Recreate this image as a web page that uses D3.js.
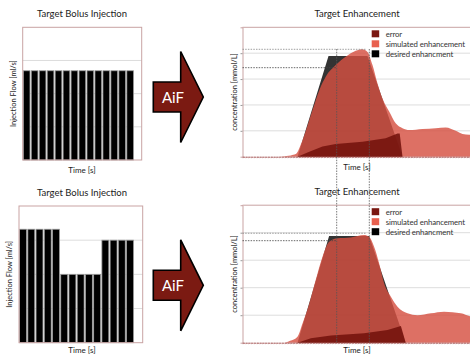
<!DOCTYPE html>
<html>
<head>
<meta charset="utf-8">
<script src="https://cdn.jsdelivr.net/npm/d3@7"></script>
<style>
body { margin: 0; background: #fff; }
text { font-family: Lato, "Open Sans", sans-serif; fill: #222; }
</style>
</head>
<body>
<div id="chart"></div>
<script>
// Width and height
var chart_width  = 470;
var chart_height = 354;

// Target bolus injection: 14 pulses, flow in ml/s
var pulses      = d3.range(1, 15);
var flowTop     = [2.69, 2.69, 2.69, 2.69, 2.69, 2.69, 2.69, 2.69, 2.69, 2.69, 2.69, 2.69, 2.69, 2.69];
var flowBottom  = [3.32, 3.32, 3.32, 3.32, 3.32, 2.0, 2.0, 2.0, 2.0, 2.0, 3.0, 3.0, 3.0, 3.0];

// Target enhancement, top row
var desiredTopT = [0, 13.75, 21.5, 31.25, 40, 60];
var desiredTopV = [0, 0, 3.89, 3.89, 0, 0];
var simTopT     = [0, 9, 11, 12.1, 13.3, 15, 17.5, 19.2, 20.8, 23.3, 25.8, 28.3, 30, 31.25, 32.5, 33.75, 35, 36.7, 38.3, 40, 41.7, 45, 48.3, 50.8, 53.3, 55, 56.7, 60];
var simTopV     = [0, 0, 0.03, 0.05, 0.1, 0.64, 1.8, 2.57, 3.09, 3.54, 3.86, 4.09, 4.15, 4.05, 3.54, 2.83, 2.25, 1.74, 1.29, 1.1, 1.03, 1.07, 1.1, 1.13, 1.0, 0.88, 0.85, 0.8];
var errTopT     = [0, 13.75, 16.7, 20, 23.3, 30, 35.8, 38.75, 39.3, 40, 60];
var errTopV     = [0, 0, 0.19, 0.39, 0.49, 0.58, 0.71, 0.9, 0.9, 0, 0];

// Target enhancement, bottom row
var desiredBotT = [0, 13.75, 21.65, 31.65, 40.8, 60];
var desiredBotV = [0, 0, 3.88, 3.88, 0, 0];
var simBotT     = [0, 10.4, 11.9, 13.75, 15, 16.7, 18.3, 20, 21.65, 23.75, 27.1, 30.4, 31.65, 32.9, 34.15, 35.4, 37.1, 38.75, 41.25, 43.75, 47.1, 50.4, 54.6, 57.1, 60];
var simBotV     = [0, 0, 0.07, 0.22, 0.7, 1.43, 2.28, 3.13, 3.67, 3.8, 3.83, 3.92, 3.85, 3.49, 2.89, 2.16, 1.67, 1.31, 1.07, 1.0, 1.07, 1.13, 1.07, 0.95, 0.9];
var errBotT     = [0, 13.75, 17.1, 22.1, 30.4, 36.25, 39.6, 40.8, 60];
var errBotV     = [0, 0, 0.16, 0.26, 0.34, 0.46, 0.61, 0, 0];

// dotted guide lines
var markTimes   = [23.55, 31.7];
var levelsTop   = [4.15, 3.44];
var levelsBot   = [3.98, 3.71];
var levelEndT   = [31.05, 23.55];

var legendNames  = ['error', 'simulated enhancement', 'desired enhancment'];
var legendColors = ['#7a1711', '#e8604f', '#000'];

var svg = d3.select('#chart')
    .append('svg')
    .attr('width', chart_width)
    .attr('height', chart_height);

function zip(t, v){
    return t.map(function(d, i){ return {t: d, v: v[i]}; });
}

// ---------- left panels: bolus bars ----------
function bolusPanel(box, values, title){
    var x = d3.scaleBand().domain(pulses).range([box.x0 + 0.6, 133.5]).paddingInner(0.16);
    var y = d3.scaleLinear().domain([0, 4]).range([box.y1, box.y0]);

    svg.append('g')
        .selectAll('line')
        .data([1, 2, 3])
        .enter()
        .append('line')
        .attr('x1', box.x0).attr('x2', box.x1)
        .attr('y1', function(d){ return y(d); })
        .attr('y2', function(d){ return y(d); })
        .attr('stroke', '#ddd')
        .attr('stroke-width', 1);

    svg.append('g')
        .selectAll('rect')
        .data(values)
        .enter()
        .append('rect')
        .attr('x', function(d, i){ return x(pulses[i]); })
        .attr('y', function(d){ return y(d); })
        .attr('width', x.bandwidth())
        .attr('height', function(d){ return box.y1 - y(d); })
        .attr('fill', '#000')
        .attr('stroke', '#9a9a9a')
        .attr('stroke-width', 0.8);

    svg.append('rect')
        .attr('x', box.x0).attr('y', box.y0)
        .attr('width', box.x1 - box.x0).attr('height', box.y1 - box.y0)
        .attr('fill', 'none')
        .attr('stroke', '#c9a3a3')
        .attr('stroke-width', 1);

    svg.append('text')
        .attr('x', 82).attr('y', box.y0 - 10)
        .attr('text-anchor', 'middle')
        .style('font-size', '9.5px')
        .text(title);

    svg.append('text')
        .attr('x', 82).attr('y', Math.min(box.y1 + 13, 353))
        .attr('text-anchor', 'middle')
        .style('font-size', '8px')
        .text('Time [s]');

    svg.append('text')
        .attr('transform', 'translate(' + (box.x0 - 7) + ',' + ((box.y0 + box.y1) / 2) + ') rotate(-90)')
        .attr('text-anchor', 'middle')
        .style('font-size', '7.5px')
        .text('Injection Flow [ml/s]');
}

bolusPanel({x0: 22.7, x1: 141.7, y0: 27.3, y1: 160}, flowTop, 'Target Bolus Injection');
bolusPanel({x0: 19, x1: 142.7, y0: 206, y1: 342.7}, flowBottom, 'Target Bolus Injection');

// ---------- arrows ----------
function arrow(cy){
    var pts = [[153.3, cy - 15], [180.7, cy - 15], [180.7, cy - 45.5], [203.3, cy],
               [180.7, cy + 45.5], [180.7, cy + 15], [153.3, cy + 15]];
    svg.append('path')
        .attr('d', d3.line()(pts) + 'Z')
        .attr('fill', '#7b1a12')
        .attr('stroke', '#000')
        .attr('stroke-width', 1.6)
        .attr('stroke-linejoin', 'miter');
    svg.append('text')
        .attr('x', 173).attr('y', cy + 5.5)
        .attr('text-anchor', 'middle')
        .style('font-size', '15px')
        .style('fill', '#fff')
        .text('AiF');
}
arrow(97);
arrow(285.3);

// ---------- right panels: enhancement ----------
var panels = [];

function enhancePanel(box, des, sim, err, levels){
    var x = d3.scaleLinear().domain([0, 60]).range([box.x0, box.x0 + 240]);
    var y = d3.scaleLinear().domain([0, 5]).range([box.y1, box.y0]);
    panels.push({x: x, y: y, box: box});

    svg.append('g')
        .selectAll('line')
        .data([1, 2, 3, 4])
        .enter()
        .append('line')
        .attr('x1', box.x0).attr('x2', chart_width)
        .attr('y1', function(d){ return y(d); })
        .attr('y2', function(d){ return y(d); })
        .attr('stroke', '#ddd')
        .attr('stroke-width', 1);

    var area = d3.area()
        .x(function(d){ return x(d.t); })
        .y0(y(0))
        .y1(function(d){ return y(d.v); });

    svg.append('path')
        .datum(des)
        .attr('d', area)
        .attr('fill', '#000')
        .attr('opacity', 0.8);

    svg.append('path')
        .datum(sim)
        .attr('d', area.curve(d3.curveMonotoneX))
        .attr('fill', 'rgb(214,80,66)')
        .attr('opacity', 0.82);

    svg.append('path')
        .datum(err)
        .attr('d', area.curve(d3.curveLinear))
        .attr('fill', 'rgb(115,18,12)')
        .attr('opacity', 0.88);

    // frame: top + left
    svg.append('line')
        .attr('x1', box.x0).attr('x2', chart_width)
        .attr('y1', box.y0).attr('y2', box.y0)
        .attr('stroke', '#c9a3a3');
    svg.append('g')
        .attr('transform', 'translate(' + box.x0 + ',0)')
        .call(d3.axisLeft(y).tickValues([1, 2, 3, 4]).tickSize(2).tickFormat(''))
        .call(function(g){
            g.select('.domain').attr('stroke', '#c9a3a3');
            g.selectAll('.tick line').attr('stroke', '#999');
        });

    // bottom axis, dashed
    svg.append('g')
        .attr('transform', 'translate(0,' + box.y1 + ')')
        .call(d3.axisBottom(x).tickValues(d3.range(0, 61, 0.7)).tickSize(1.5).tickSizeOuter(0).tickFormat(''))
        .call(function(g){
            g.select('.domain').attr('stroke', '#a85a5a').attr('stroke-dasharray', '2,0.8');
            g.selectAll('.tick line').attr('stroke', '#b07070').attr('stroke-width', 0.6);
        });

    // horizontal guides
    svg.append('g')
        .selectAll('line')
        .data(levels)
        .enter()
        .append('line')
        .attr('x1', box.x0)
        .attr('x2', function(d, i){ return x(levelEndT[i]); })
        .attr('y1', function(d){ return y(d); })
        .attr('y2', function(d){ return y(d); })
        .attr('stroke', function(d, i){ return i ? '#444' : '#888'; })
        .attr('stroke-width', 0.8)
        .attr('stroke-dasharray', '1.5,1.2');

    svg.append('text')
        .attr('x', 357).attr('y', box.y0 - 10)
        .attr('text-anchor', 'middle')
        .style('font-size', '9.5px')
        .text('Target Enhancement');

    svg.append('text')
        .attr('x', 357).attr('y', Math.min(box.y1 + 13, 353))
        .attr('text-anchor', 'middle')
        .style('font-size', '8px')
        .text('Time [s]');

    svg.append('text')
        .attr('transform', 'translate(' + (box.x0 - 5.5) + ',' + ((box.y0 + box.y1) / 2) + ') rotate(-90)')
        .attr('text-anchor', 'middle')
        .style('font-size', '7.5px')
        .text('concentration [mmol/L]');

    // legend
    var lg = svg.append('g')
        .attr('transform', 'translate(371.7,' + (box.y0 + 3) + ')');
    lg.selectAll('rect')
        .data(legendNames)
        .enter()
        .append('rect')
        .attr('x', 0)
        .attr('y', function(d, i){ return i * 10; })
        .attr('width', 7.5).attr('height', 7)
        .attr('fill', function(d, i){ return legendColors[i]; });
    lg.selectAll('text')
        .data(legendNames)
        .enter()
        .append('text')
        .attr('x', 14)
        .attr('y', function(d, i){ return i * 10 + 6.5; })
        .style('font-size', '7.8px')
        .style('letter-spacing', '-0.1px')
        .style('fill', '#333')
        .text(function(d){ return d; });
}

enhancePanel({x0: 242.5, y0: 27.3, y1: 156.7},
    zip(desiredTopT, desiredTopV), zip(simTopT, simTopV), zip(errTopT, errTopV), levelsTop);
enhancePanel({x0: 242.5, y0: 205.2, y1: 342.7},
    zip(desiredBotT, desiredBotV), zip(simBotT, simBotV), zip(errBotT, errBotV), levelsBot);

// vertical guides spanning both enhancement panels
svg.append('g')
    .selectAll('line')
    .data(markTimes)
    .enter()
    .append('line')
    .attr('x1', function(d){ return panels[0].x(d); })
    .attr('x2', function(d){ return panels[0].x(d); })
    .attr('y1', 49)
    .attr('y2', panels[1].box.y1)
    .attr('stroke', '#555')
    .attr('stroke-width', 0.8)
    .attr('stroke-dasharray', '1.5,1.2');
</script>
</body>
</html>
